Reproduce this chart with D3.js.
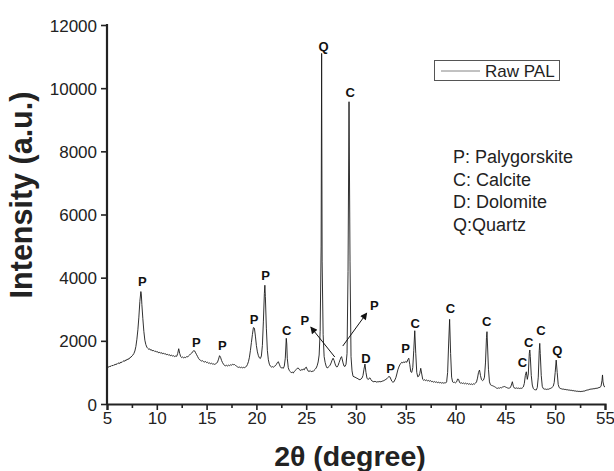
<!DOCTYPE html>
<html><head><meta charset="utf-8">
<script src="https://cdn.jsdelivr.net/npm/d3@7"></script>
<style>body{margin:0;background:#fff}svg{display:block}text{font-family:"Liberation Sans",Arial,sans-serif}</style>
</head><body>
<svg id="c" width="614" height="471"></svg>
<script>
const twoTheta = [5.0,5.1,5.2,5.3,5.4,5.5,5.6,5.7,5.8,5.9,6.0,6.1,6.2,6.3,6.4,6.5,6.6,6.7,6.8,6.9,7.0,7.1,7.2,7.3,7.4,7.5,7.6,7.7,7.8,7.9,8.0,8.1,8.2,8.3,8.4,8.45,8.5,8.6,8.7,8.8,8.9,9.0,9.1,9.2,9.3,9.4,9.5,9.6,9.7,9.8,9.9,10.0,10.1,10.2,10.3,10.4,10.5,10.6,10.7,10.8,10.9,11.0,11.1,11.2,11.3,11.4,11.5,11.6,11.7,11.8,11.9,12.0,12.1,12.2,12.3,12.4,12.5,12.6,12.7,12.8,12.9,13.0,13.1,13.2,13.3,13.4,13.5,13.6,13.7,13.8,13.9,14.0,14.1,14.2,14.3,14.4,14.5,14.6,14.7,14.8,14.9,15.0,15.1,15.2,15.3,15.4,15.5,15.6,15.7,15.8,15.9,16.0,16.1,16.2,16.3,16.4,16.5,16.6,16.7,16.8,16.9,17.0,17.1,17.2,17.3,17.4,17.5,17.6,17.7,17.8,17.9,18.0,18.1,18.2,18.3,18.4,18.5,18.6,18.7,18.8,18.9,19.0,19.1,19.2,19.3,19.4,19.5,19.6,19.7,19.8,19.9,20.0,20.1,20.2,20.3,20.4,20.5,20.6,20.7,20.8,20.85,20.9,21.0,21.1,21.2,21.3,21.4,21.5,21.6,21.7,21.8,21.9,22.0,22.1,22.2,22.3,22.4,22.5,22.6,22.7,22.8,22.9,23.0,23.05,23.1,23.2,23.3,23.4,23.5,23.6,23.7,23.8,23.9,24.0,24.1,24.2,24.3,24.4,24.5,24.6,24.7,24.8,24.9,25.0,25.1,25.2,25.3,25.4,25.5,25.6,25.7,25.8,25.9,26.0,26.1,26.2,26.3,26.4,26.5,26.55,26.6,26.7,26.8,26.9,27.0,27.1,27.2,27.3,27.4,27.5,27.6,27.7,27.8,27.9,28.0,28.1,28.2,28.3,28.4,28.5,28.55,28.6,28.7,28.8,28.9,29.0,29.1,29.2,29.3,29.4,29.5,29.6,29.7,29.8,29.9,30.0,30.1,30.2,30.3,30.4,30.5,30.6,30.7,30.8,30.9,31.0,31.1,31.2,31.3,31.4,31.5,31.6,31.7,31.8,31.9,32.0,32.1,32.2,32.3,32.4,32.5,32.6,32.7,32.8,32.9,33.0,33.1,33.2,33.3,33.4,33.5,33.6,33.7,33.8,33.9,34.0,34.1,34.2,34.3,34.4,34.5,34.6,34.7,34.8,34.9,35.0,35.1,35.2,35.3,35.4,35.5,35.6,35.7,35.8,35.9,36.0,36.1,36.2,36.3,36.4,36.5,36.6,36.7,36.8,36.9,37.0,37.1,37.2,37.3,37.4,37.5,37.6,37.7,37.8,37.9,38.0,38.1,38.2,38.3,38.4,38.5,38.6,38.7,38.8,38.9,39.0,39.1,39.2,39.3,39.4,39.5,39.6,39.7,39.8,39.9,40.0,40.1,40.2,40.3,40.4,40.5,40.6,40.7,40.8,40.9,41.0,41.1,41.2,41.3,41.4,41.5,41.6,41.7,41.8,41.9,42.0,42.1,42.2,42.3,42.4,42.5,42.6,42.7,42.8,42.9,43.0,43.1,43.15,43.2,43.3,43.4,43.5,43.6,43.7,43.8,43.9,44.0,44.1,44.2,44.3,44.4,44.5,44.6,44.7,44.8,44.9,45.0,45.1,45.2,45.3,45.4,45.5,45.6,45.7,45.8,45.9,46.0,46.1,46.2,46.3,46.4,46.5,46.6,46.7,46.8,46.9,47.0,47.1,47.2,47.3,47.4,47.45,47.5,47.6,47.7,47.8,47.9,48.0,48.1,48.2,48.3,48.4,48.45,48.5,48.6,48.7,48.8,48.9,49.0,49.1,49.2,49.3,49.4,49.5,49.6,49.7,49.8,49.9,50.0,50.1,50.2,50.3,50.4,50.5,50.6,50.7,50.8,50.9,51.0,51.1,51.2,51.3,51.4,51.5,51.6,51.7,51.8,51.9,52.0,52.1,52.2,52.3,52.4,52.5,52.6,52.7,52.8,52.9,53.0,53.1,53.2,53.3,53.4,53.5,53.6,53.7,53.8,53.9,54.0,54.1,54.2,54.3,54.4,54.5,54.6,54.7,54.75,54.8,54.9,55.0];
const intensity = [1150,1180,1165,1200,1190,1225,1210,1245,1235,1270,1255,1290,1300,1285,1330,1315,1350,1370,1355,1400,1390,1430,1420,1470,1480,1520,1550,1600,1680,1820,2050,2350,2750,3250,3560,3450,3150,2700,2300,2020,1880,1800,1760,1730,1745,1700,1715,1680,1695,1660,1675,1640,1655,1620,1640,1600,1625,1590,1610,1575,1590,1560,1575,1540,1560,1525,1545,1515,1530,1500,1520,1510,1600,1750,1600,1500,1470,1490,1460,1480,1470,1500,1490,1530,1560,1580,1610,1650,1690,1680,1620,1560,1500,1440,1400,1380,1360,1370,1340,1330,1345,1310,1320,1290,1300,1275,1290,1265,1270,1255,1270,1290,1330,1420,1530,1480,1380,1310,1260,1220,1210,1225,1205,1230,1215,1240,1230,1255,1245,1250,1220,1200,1175,1160,1170,1150,1165,1145,1160,1150,1170,1190,1250,1340,1480,1700,1950,2200,2420,2400,2150,1850,1650,1530,1460,1440,1520,1850,2600,3500,3760,3400,2400,1700,1400,1260,1200,1170,1185,1165,1190,1210,1250,1310,1340,1260,1180,1140,1150,1130,1200,1450,2080,1900,1450,1150,1060,1030,990,1010,980,1030,1060,1090,1130,1140,1100,1060,1090,1070,1110,1080,1140,1170,1100,1040,1030,1060,1020,1040,1030,1070,1100,1140,1210,1330,1550,2300,5000,11100,4500,2200,1500,1320,1200,1140,1160,1190,1230,1300,1390,1450,1380,1270,1190,1170,1220,1310,1400,1480,1500,1440,1300,1200,1190,1260,1600,4200,9570,4500,1500,1050,880,860,850,830,815,800,775,770,790,820,900,1100,1265,1000,820,775,800,830,770,730,715,700,720,705,690,710,700,715,700,720,730,740,760,780,800,840,870,860,790,720,690,700,760,830,950,1080,1170,1240,1290,1320,1300,1340,1310,1350,1320,1400,1450,1250,1020,1000,1150,1700,2320,1600,1000,860,880,960,1130,950,780,750,770,740,760,730,745,720,740,705,715,690,710,685,700,675,690,670,680,660,675,660,670,665,700,1000,1900,2680,1600,850,700,680,690,670,700,790,780,680,660,670,650,665,640,660,635,650,625,640,620,635,615,640,630,660,700,820,1000,1075,900,770,740,760,850,1300,2100,2290,1900,1100,700,610,590,580,565,550,530,505,495,510,500,520,510,535,545,555,540,525,510,500,505,520,600,705,560,505,495,510,495,505,490,500,495,510,540,650,900,1020,780,950,1600,1710,1500,900,600,490,460,450,445,520,850,1700,1920,1600,900,560,490,470,475,460,470,465,480,490,505,530,560,680,1000,1390,1000,620,520,495,485,470,475,460,465,450,455,440,445,430,440,420,430,410,420,400,410,395,405,390,400,395,410,405,420,430,445,440,460,465,475,470,485,480,490,500,495,510,520,530,560,750,920,700,560,540];

const xTicks = [5,10,15,20,25,30,35,40,45,50,55];
const yTicks = [0,2000,4000,6000,8000,10000,12000];

// peak annotations: label, 2θ and intensity at the label baseline
const peakLabels = ["P","P","P","P","P","C","P","Q","C","P","D","P","P","C","C","C","C","C","C","Q"];
const peakX = [8.56,13.98,16.58,19.76,20.93,23.05,24.86,26.75,29.42,31.85,31.0,33.46,34.97,35.94,39.48,43.13,46.7,47.35,48.56,50.2];
const peakY = [3744,1794,1709,2532,3924,2184,2500,11180,9706,2975,1307,990,1624,2395,2870,2468,1160,1794,2184,1550];
// arrows: from (2θ, I) to (2θ, I)
const arrows = [[27.87,1487,25.46,2437],[28.67,1835,31.08,2880]];

const seriesName = "Raw PAL";
const phaseKey = ["P: Palygorskite","C: Calcite","D: Dolomite","Q:Quartz"];

const svg = d3.select("#c");
svg.append("rect").attr("width",614).attr("height",471).attr("fill","#fff");
const x = d3.scaleLinear().domain([5,55]).range([107,605]);
const y = d3.scaleLinear().domain([0,12000]).range([404,25]);

const defs = svg.append("defs");
defs.append("marker").attr("id","ah").attr("viewBox","0 0 10 10").attr("refX",9).attr("refY",5)
  .attr("markerWidth",9).attr("markerHeight",7).attr("markerUnits","userSpaceOnUse").attr("orient","auto")
  .append("path").attr("d","M0,0L10,5L0,10z").attr("fill","#111");

// curve
const pts = twoTheta.map((t,i)=>[t,intensity[i]]);
svg.append("path").datum(pts)
  .attr("d", d3.line().x(d=>x(d[0])).y(d=>y(d[1])))
  .attr("fill","none").attr("stroke","#1a1a1a").attr("stroke-width",0.9).attr("stroke-linejoin","round");

// axes
const axCol = "#222";
const xAxis = svg.append("g").attr("transform","translate(0,404)")
  .call(d3.axisBottom(x).tickValues(xTicks).tickSize(6).tickPadding(2).tickFormat(d3.format("d")));
const xMinor = svg.append("g").attr("transform","translate(0,404)")
  .call(d3.axisBottom(x).tickValues(xTicks.slice(0,-1).map(v=>v+2.5)).tickSize(4).tickFormat(""));
xMinor.select(".domain").remove();
const yAxis = svg.append("g").attr("transform","translate(107,0)")
  .call(d3.axisLeft(y).tickValues(yTicks).tickSize(6).tickPadding(4).tickFormat(d3.format("d")));
[xAxis,xMinor,yAxis].forEach(g=>{
  g.selectAll(".domain").attr("stroke",axCol).attr("stroke-width",2.2);
  g.selectAll(".tick line").attr("stroke",axCol).attr("stroke-width",1.6);
  g.selectAll(".tick text").attr("fill","#222").style("font-size","17px");
});
yAxis.select(".domain").attr("d","M0,"+(y(12000)-1)+"V"+(y(0)+1));
yAxis.selectAll(".tick text").attr("dy","0.36em");

// axis titles
svg.append("text").attr("x",350).attr("y",466).attr("text-anchor","middle")
  .style("font-size","28.5px").style("font-weight","bold").attr("fill","#222").text("2θ (degree)");
svg.append("text").attr("transform","translate(32,195) rotate(-90)").attr("text-anchor","middle")
  .style("font-size","30.5px").style("font-weight","bold").attr("fill","#222").text("Intensity (a.u.)");

// peak labels
svg.append("g").selectAll("text").data(peakLabels).join("text")
  .attr("x",(d,i)=>x(peakX[i])).attr("y",(d,i)=>y(peakY[i])).attr("text-anchor","middle")
  .style("font-size","13px").style("font-weight","bold").attr("fill","#111").text(d=>d);

// arrows
svg.append("g").selectAll("line").data(arrows).join("line")
  .attr("x1",d=>x(d[0])).attr("y1",d=>y(d[1])).attr("x2",d=>x(d[2])).attr("y2",d=>y(d[3]))
  .attr("stroke","#111").attr("stroke-width",1).attr("marker-end","url(#ah)");

// legend
const lg = svg.append("g");
lg.append("rect").attr("x",434.5).attr("y",60.5).attr("width",125).attr("height",20)
  .attr("fill","#fff").attr("stroke","#555").attr("stroke-width",1);
lg.append("line").attr("x1",441).attr("x2",480).attr("y1",71).attr("y2",71).attr("stroke","#666").attr("stroke-width",0.8);
lg.append("text").attr("x",485).attr("y",77).style("font-size","17px").attr("fill","#222").text(seriesName);

// phase key
svg.append("g").selectAll("text").data(phaseKey).join("text")
  .attr("x",453).attr("y",(d,i)=>163+i*22.5).style("font-size","18px").attr("fill","#222").text(d=>d);
</script>
</body></html>
